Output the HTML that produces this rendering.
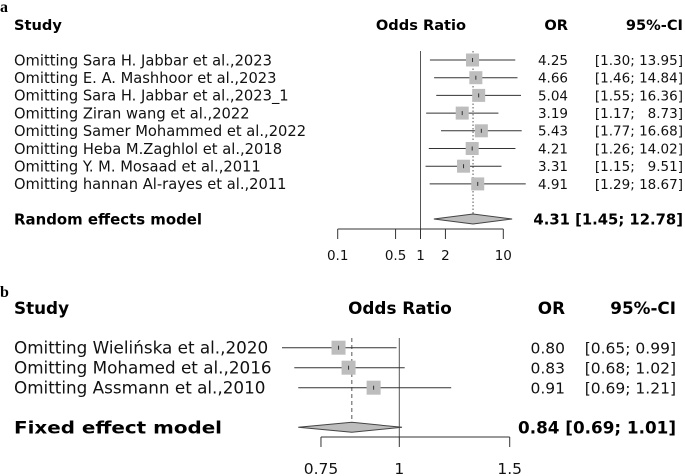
<!DOCTYPE html>
<html><head><meta charset="utf-8"><style>
body{margin:0;background:#fff}
svg{display:block;font-family:"DejaVu Sans","Liberation Sans",sans-serif}
</style></head><body>
<svg id="c" width="685" height="476"></svg>
<script>
const aStudies=["Omitting Sara H. Jabbar et al.,2023","Omitting E. A. Mashhoor et al.,2023","Omitting Sara H. Jabbar et al.,2023_1","Omitting Ziran wang et al.,2022","Omitting Samer Mohammed et al.,2022","Omitting Heba M.Zaghlol et al.,2018","Omitting Y. M. Mosaad et al.,2011","Omitting hannan Al-rayes et al.,2011"];
const aOR=[4.25,4.66,5.04,3.19,5.43,4.21,3.31,4.91];
const aLo=[1.30,1.46,1.55,1.17,1.77,1.26,1.15,1.29];
const aHi=[13.95,14.84,16.36,8.73,16.68,14.02,9.51,18.67];
const aPool=[4.31,1.45,12.78];
const aTicks=[0.1,0.5,1,2,10];
const bStudies=["Omitting Wielińska et al.,2020","Omitting Mohamed et al.,2016","Omitting Assmann et al.,2010"];
const bOR=[0.80,0.83,0.91];
const bLo=[0.65,0.68,0.69];
const bHi=[0.99,1.02,1.21];
const bPool=[0.84,0.69,1.01];
const bTicks=[0.75,1,1.5];

const svg=document.getElementById('c');const NS="http://www.w3.org/2000/svg";
function el(t,a,txt){const e=document.createElementNS(NS,t);for(const k in a)e.setAttribute(k,a[k]);if(txt!==undefined)e.textContent=txt;svg.appendChild(e);return e;}
const f2=v=>v.toFixed(2);

function panel(o){
  const sx=v=>o.x1+o.ppd*Math.log10(v);
  let e;
  e=el('text',{x:0,y:o.labY,'font-family':'Liberation Serif','font-weight':'bold','font-size':16},o.letter);
  
  e=el('text',{x:14,y:o.hy,'font-weight':'bold','font-size':o.fsH},'Study');
  
  e=el('text',{x:o.orHx,y:o.hy,'font-weight':'bold','font-size':o.fsH,'text-anchor':'middle'},'Odds Ratio');
  
  e=el('text',{x:o.orR,y:o.hy,'font-weight':'bold','font-size':o.fsH,'text-anchor':'end'},'OR');
  
  e=el('text',{x:o.ciR,y:o.hy,'font-weight':'bold','font-size':o.fsH,'text-anchor':'end'},'95%-CI');
  
  e=el('line',{x1:sx(1),x2:sx(1),y1:o.vTop,y2:o.axY,stroke:'#555','stroke-width':1});
  
  e=el('line',{x1:sx(o.pool[0]),x2:sx(o.pool[0]),y1:o.vTop,y2:o.dY,stroke:'#555','stroke-width':1,'stroke-dasharray':o.dash});
  
  o.studies.forEach((s,i)=>{
    const y=o.y0+i*o.dy;
    e=el('text',{x:14,y:y+o.fsL*0.36,'font-size':o.fsL,fill:'#111'},s);
    
    e=el('line',{x1:sx(o.lo[i]),x2:sx(o.hi[i]),y1:y,y2:y,stroke:'#333','stroke-width':1});
    
    e=el('rect',{x:sx(o.or[i])-o.sq/2,y:y-o.sq/2,width:o.sq,height:o.sq,fill:'#bdbdbd'});
    
    e=el('line',{x1:sx(o.or[i]),x2:sx(o.or[i]),y1:y-2,y2:y+2,stroke:'#333','stroke-width':1});
    
    e=el('text',{x:o.orR,y:y+o.fsV*0.36,'font-size':o.fsV,'text-anchor':'end',fill:'#111'},f2(o.or[i]));
    
    const hi=f2(o.hi[i]).padStart(o.pad,'\u2007');
    e=el('text',{x:o.ciR,y:y+o.fsV*0.36,'font-size':o.fsV,'text-anchor':'end',fill:'#111'},'['+f2(o.lo[i])+'; '+hi+']');
    
  });
  const y=o.dY;
  e=el('text',{x:14,y:y+o.fsP*0.36,'font-size':o.fsP,'font-weight':'bold',textLength:o.modelLen,lengthAdjust:'spacingAndGlyphs'},o.model);
  
  e=el('polygon',{points:`${sx(o.pool[1])},${y} ${sx(o.pool[0])},${y-5} ${sx(o.pool[2])},${y} ${sx(o.pool[0])},${y+5}`,fill:'#bdbdbd',stroke:'#444','stroke-width':1});
  
  e=el('text',{x:o.ciR,y:y+o.fsP*0.36,'font-size':o.fsP,'font-weight':'bold','text-anchor':'end'},f2(o.pool[0])+' ['+f2(o.pool[1])+'; '+f2(o.pool[2])+']');
  
  const t=o.ticks;
  e=el('line',{x1:sx(t[0]),x2:sx(t[t.length-1]),y1:o.axY,y2:o.axY,stroke:'#333','stroke-width':1});
  
  t.forEach(v=>{
    e=el('line',{x1:sx(v),x2:sx(v),y1:o.axY,y2:o.axY+10,stroke:'#333','stroke-width':1});
    
    e=el('text',{x:sx(v),y:o.tlY,'font-size':o.fsT,'text-anchor':'middle',fill:'#111'},String(v));
    
  });
}
panel({letter:'a',labY:12,hy:30,fsH:14.6,fsL:14.7,fsV:13.5,fsP:14.8,fsT:13.5,orHx:421,orR:568,ciR:683,x1:420.5,ppd:82.8,vTop:51,axY:229,tlY:260,
  y0:60,dy:17.7,dY:219,studies:aStudies,or:aOR,lo:aLo,hi:aHi,pool:aPool,ticks:aTicks,sq:13,dash:'1.5,2',pad:5,modelLen:188,model:'Random effects model'});
panel({letter:'b',labY:297,hy:314,fsH:16.8,fsL:16.8,fsV:15.5,fsP:16.8,fsT:15.5,orHx:400,orR:565,ciR:676,x1:399.3,ppd:627,vTop:338,axY:437,tlY:474,
  y0:347.7,dy:20,dY:427.3,studies:bStudies,or:bOR,lo:bLo,hi:bHi,pool:bPool,ticks:bTicks,sq:14,dash:'4,3',pad:4,modelLen:208,model:'Fixed effect model'});
</script>
</body></html>
